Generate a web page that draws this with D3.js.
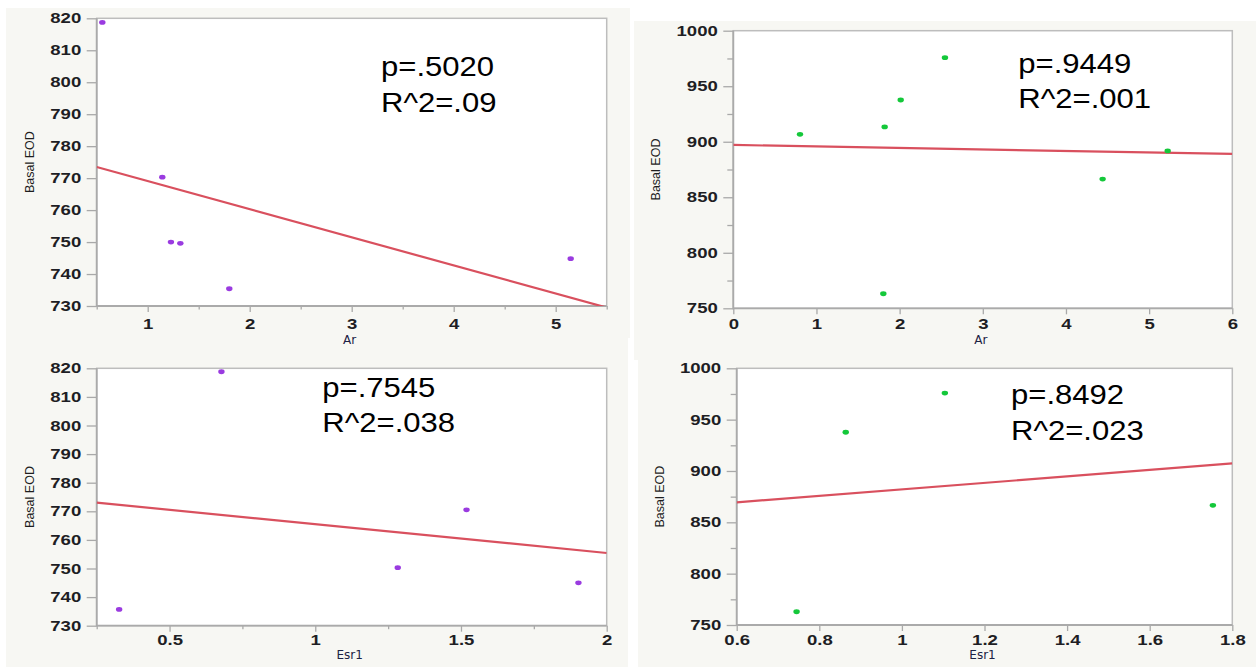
<!DOCTYPE html>
<html>
<head>
<meta charset="utf-8">
<script src="https://cdn.jsdelivr.net/npm/d3@7"></script>
<style>
  body { margin: 0; background: #ffffff; }
  .tick line { stroke: #a9a9a9; stroke-width: 1.3; }
  .tick text { font-family: "Liberation Sans", Arial, sans-serif; font-weight: bold; font-size: 14.5px; fill: #1e1e24; }
  .stats { font-family: "Liberation Sans", Arial, sans-serif; font-size: 27px; fill: #000; }
  .ytitle { font-family: "Liberation Sans", Arial, sans-serif; font-size: 12.5px; fill: #1e1e1e; }
  .xtitle { font-family: "DejaVu Sans", sans-serif; font-size: 12px; fill: #1c2244; }
</style>
</head>
<body>
<div class="chart"></div>
<script>
// Basal EOD against Ar / Esr1 expression, two groups (purple, green)

// purple group, Ar
var arPurpleX = [0.555, 1.143, 1.228, 1.320, 1.800, 5.147];
var arPurpleY = [818.7, 770.3, 750.0, 749.6, 735.4, 744.8];

// green group, Ar
var arGreenX = [0.802, 1.820, 2.013, 2.545, 1.804, 4.441, 5.223];
var arGreenY = [906.7, 913.3, 937.6, 975.7, 763.1, 866.4, 891.7];

// purple group, Esr1
var esrPurpleX = [0.327, 0.678, 1.283, 1.519, 1.903];
var esrPurpleY = [735.7, 818.8, 750.3, 770.5, 745.0];

// green group, Esr1
var esrGreenX = [0.745, 0.864, 1.104, 1.753];
var esrGreenY = [762.9, 937.7, 975.9, 866.6];

// tick labels
var eodTicksLow = [730, 740, 750, 760, 770, 780, 790, 800, 810, 820];
var eodTicksHigh = [750, 800, 850, 900, 950, 1000];
var eodMinorHigh = [775, 825, 875, 925, 975];
var arTicksPurple = [1, 2, 3, 4, 5];
var arMinorPurple = [0.5, 1.5, 2.5, 3.5, 4.5, 5.5];
var arTicksGreen = [0, 1, 2, 3, 4, 5, 6];
var esrTicksPurple = [0.5, 1, 1.5, 2];
var esrMinorPurple = [0.25, 0.75, 1.25, 1.75];
var esrTicksGreen = [0.6, 0.8, 1, 1.2, 1.4, 1.6, 1.8];

// fit statistics shown on each plot
var statsArPurple = ["p=.5020", "R^2=.09"];
var statsArGreen = ["p=.9449", "R^2=.001"];
var statsEsrPurple = ["p=.7545", "R^2=.038"];
var statsEsrGreen = ["p=.8492", "R^2=.023"];

var svgWidth = 1256;
var svgHeight = 668;

var svg = d3.select(".chart")
    .append("svg")
    .attr("width", svgWidth)
    .attr("height", svgHeight);

var purple = "#9a3be0";
var green = "#14c83a";

var panels = [
    { bg: [6, 8, 624, 330], left: 96.7, right: 606.7, top: 18.3, bottom: 306,
      xs: arPurpleX, ys: arPurpleY, color: purple,
      xDomain: [0.5, 5.5], yDomain: [730, 820],
      xTicks: arTicksPurple, xMinor: arMinorPurple, yTicks: eodTicksLow, yMinor: [],
      xPad: 6.5, xTitle: "Ar", xTitleY: 344,
      stats: statsArPurple, statsX: 381, statsY: 76 },
    { bg: [634, 21, 622, 339], left: 733.3, right: 1232.3, top: 30.7, bottom: 308.3,
      xs: arGreenX, ys: arGreenY, color: green,
      xDomain: [0, 6], yDomain: [750, 1000],
      xTicks: arTicksGreen, xMinor: [], yTicks: eodTicksHigh, yMinor: eodMinorHigh,
      xPad: 4, xTitle: "Ar", xTitleY: 344,
      stats: statsArGreen, statsX: 1018.3, statsY: 72.7 },
    { bg: [6, 338, 622, 329], left: 96.7, right: 606.7, top: 368.3, bottom: 625.7,
      xs: esrPurpleX, ys: esrPurpleY, color: purple,
      xDomain: [0.25, 2], yDomain: [730, 820],
      xTicks: esrTicksPurple, xMinor: esrMinorPurple, yTicks: eodTicksLow, yMinor: [],
      xPad: 3.5, xTitle: "Esr1", xTitleY: 659,
      stats: statsEsrPurple, statsX: 322.3, statsY: 396.7 },
    { bg: [638, 360, 618, 307], left: 736.7, right: 1232.3, top: 368.3, bottom: 625,
      xs: esrGreenX, ys: esrGreenY, color: green,
      xDomain: [0.6, 1.8], yDomain: [750, 1000],
      xTicks: esrTicksGreen, xMinor: [], yTicks: eodTicksHigh, yMinor: eodMinorHigh,
      xPad: 4, xTitle: "Esr1", xTitleY: 659,
      stats: statsEsrGreen, statsX: 1011, statsY: 404.3 }
];

// least squares line through the points
function linearFit(xs, ys) {
    var mx = d3.mean(xs), my = d3.mean(ys);
    var sxy = d3.sum(xs, (x, i) => (x - mx) * (ys[i] - my));
    var sxx = d3.sum(xs, x => (x - mx) * (x - mx));
    var slope = sxy / sxx;
    return { slope: slope, intercept: my - slope * mx };
}

// backgrounds first so no panel covers another's labels
panels.forEach(function (p) {
    svg.append("rect")
        .attr("x", p.bg[0]).attr("y", p.bg[1])
        .attr("width", p.bg[2]).attr("height", p.bg[3])
        .attr("fill", "#f7f7f3");
});

panels.forEach(function (p, k) {
    var xScale = d3.scaleLinear().domain(p.xDomain).range([p.left, p.right]);
    var yScale = d3.scaleLinear().domain(p.yDomain).range([p.bottom, p.top]);

    // white plot area with grey frame
    svg.append("rect")
        .attr("x", p.left).attr("y", p.top)
        .attr("width", p.right - p.left).attr("height", p.bottom - p.top)
        .attr("fill", "#fff")
        .attr("stroke", "#bdbdbd")
        .attr("stroke-width", 1.5);

    // minor ticks
    if (p.yMinor.length) {
        svg.append("g")
            .attr("transform", `translate(${p.left},0)`)
            .call(d3.axisLeft(yScale).tickValues(p.yMinor).tickSize(6).tickFormat(""))
            .call(g => g.select(".domain").remove());
    }
    if (p.xMinor.length) {
        svg.append("g")
            .attr("transform", `translate(0,${p.bottom})`)
            .call(d3.axisBottom(xScale).tickValues(p.xMinor).tickSize(3.5).tickFormat(""))
            .call(g => g.select(".domain").remove());
    }

    // major axes
    var yAxis = svg.append("g")
        .attr("transform", `translate(${p.left},0)`)
        .call(d3.axisLeft(yScale).tickValues(p.yTicks).tickSize(10).tickPadding(5).tickFormat(d => d));
    yAxis.select(".domain").remove();
    yAxis.selectAll(".tick text")
        .attr("x", -15.5 / 1.28)
        .attr("transform", "scale(1.28,1)");

    var xAxis = svg.append("g")
        .attr("transform", `translate(0,${p.bottom})`)
        .call(d3.axisBottom(xScale).tickValues(p.xTicks).tickSize(6).tickPadding(p.xPad).tickFormat(d => d));
    xAxis.select(".domain").remove();
    xAxis.selectAll(".tick text")
        .attr("transform", "scale(1.28,1)");

    // axis lines on left and bottom
    svg.append("path")
        .attr("d", `M${p.left},${p.top}V${p.bottom}H${p.right}`)
        .attr("fill", "none")
        .attr("stroke", "#aaaaaa")
        .attr("stroke-width", 1.8);

    // axis titles
    svg.append("text")
        .attr("class", "ytitle")
        .attr("transform", `translate(${p.bg[0] + (k % 2 ? 21.5 : 23.5)},${(p.top + p.bottom) / 2}) rotate(-90)`)
        .attr("text-anchor", "middle")
        .attr("dy", "0.35em")
        .text("Basal EOD");

    svg.append("text")
        .attr("class", "xtitle")
        .attr("x", (p.left + p.right) / 2 - 2)
        .attr("y", p.xTitleY)
        .attr("text-anchor", "middle")
        .text(p.xTitle);

    // fit line, clipped to plot
    var clipId = "clip" + k;
    svg.append("clipPath").attr("id", clipId)
        .append("rect")
        .attr("x", p.left).attr("y", p.top)
        .attr("width", p.right - p.left).attr("height", p.bottom - p.top);

    var fit = linearFit(p.xs, p.ys);
    svg.append("line")
        .attr("clip-path", `url(#${clipId})`)
        .attr("x1", xScale(p.xDomain[0]))
        .attr("y1", yScale(fit.intercept + fit.slope * p.xDomain[0]))
        .attr("x2", xScale(p.xDomain[1]))
        .attr("y2", yScale(fit.intercept + fit.slope * p.xDomain[1]))
        .attr("stroke", "#d9505e")
        .attr("stroke-width", 2.2);

    // points
    svg.append("g").selectAll("ellipse")
        .data(p.xs.map((x, i) => [x, p.ys[i]]))
        .enter()
        .append("ellipse")
        .attr("cx", d => xScale(d[0]))
        .attr("cy", d => yScale(d[1]))
        .attr("rx", 3.2)
        .attr("ry", 2.4)
        .attr("fill", p.color);

    // p value and R^2 text
    var statsGroup = svg.append("g")
        .attr("transform", `translate(${p.statsX},${p.statsY}) scale(1.15,1)`);
    statsGroup.selectAll("text")
        .data(p.stats)
        .enter()
        .append("text")
        .attr("class", "stats")
        .attr("x", 0)
        .attr("y", (d, i) => i * 35.8)
        .text(d => d);
});
</script>
</body>
</html>
